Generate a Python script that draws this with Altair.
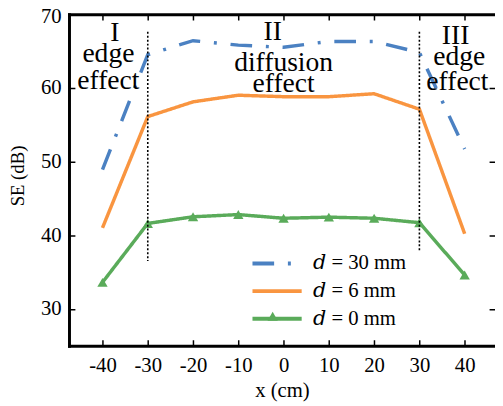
import altair as alt
import pandas as pd

# ---- data ----
x_cm = [-40, -30, -20, -10, 0, 10, 20, 30, 40]
se_d30 = [48.9, 64.5, 66.4, 65.8, 65.5, 66.3, 66.3, 64.8, 51.7]
se_d6 = [41.0, 56.1, 58.1, 59.0, 58.8, 58.8, 59.2, 57.1, 40.2]
se_d0 = [33.6, 41.6, 42.5, 42.8, 42.3, 42.45, 42.3, 41.7, 34.6]
series_labels = ["𝑑 = 30 mm", "𝑑 = 6 mm", "𝑑 = 0 mm"]
series_colors = ["#4b81c2", "#f99540", "#5aab5a"]
series_dash = [[22, 14, 3, 14], [1, 0], [1, 0]]

x_ticks = [-40, -30, -20, -10, 0, 10, 20, 30, 40]
y_ticks = [30, 40, 50, 60, 70]
x_domain = [-47.4, 46.7]
y_domain = [25, 70]

region_x = [-30, 30]
region_top = [67.6, 67.6]
region_bottom = [36.5, 37.9]

ann_text = ["I", "edge", "effect", "II", "diffusion", "effect", "III", "edge", "effect"]
ann_x = [-37.3, -38.7, -38.7, -2.4, 0.0, 0.0, 38.0, 38.8, 38.4]
ann_y = [66.4, 63.5, 59.8, 66.5, 62.35, 59.45, 65.9, 63.1, 59.7]

W, H = 433, 337
FONT = "Liberation Serif"

rows = []
for lab, vals in zip(series_labels, [se_d30, se_d6, se_d0]):
    for xv, yv in zip(x_cm, vals):
        rows.append({"x": xv, "se": yv, "series": lab})
df = pd.DataFrame(rows)
df_tri = pd.DataFrame({"x": x_cm, "se": se_d0, "marker": ["tri"] * len(x_cm)})
df_rule = pd.DataFrame({"x": region_x, "y1": region_top, "y2": region_bottom})
df_ann = pd.DataFrame({"x": ann_x, "y": ann_y, "t": ann_text})

xs = alt.Scale(domain=x_domain, nice=False, zero=False)
ys = alt.Scale(domain=y_domain, nice=False, zero=False)

x_axis = alt.Axis(
    orient="bottom", values=x_ticks, labelExpr="'' + datum.value",
    labelFont=FONT, labelFontSize=21, labelColor="black", labelPadding=9,
    domain=True, domainColor="black", domainWidth=3, domainCap="square",
    ticks=False, tickSize=0,
    grid=True, gridColor="black", gridWidth=1.5, gridOpacity=1,
    gridDash=[6, H - 12, 6, 20],
    title="x (cm)", titleFont=FONT, titleFontSize=21, titleFontWeight="normal",
    titleColor="black", titlePadding=5,
)
y_axis = alt.Axis(
    orient="left", values=y_ticks, labelExpr="'' + datum.value",
    labelFont=FONT, labelFontSize=21, labelColor="black", labelPadding=8,
    labelOffset={"condition": {"test": "datum.value == 70", "value": 2.5}, "value": 0},
    domain=True, domainColor="black", domainWidth=3, domainCap="square",
    ticks=False, tickSize=0,
    grid=True, gridColor="black", gridWidth=1.5, gridOpacity=1,
    gridDash=[6, W - 12, 6, 20],
    title="SE (dB)", titleFont=FONT, titleFontSize=19, titleFontWeight="normal",
    titleColor="black", titleX=-52, titleY=164, titleAngle=270,
    titleAlign="center", titleBaseline="middle",
)
top_axis = alt.Axis(
    orient="top", labels=False, ticks=False, grid=False, title=None,
    domain=True, domainColor="black", domainWidth=3, domainCap="square",
)

lines = alt.Chart(df).mark_line(strokeWidth=3.5).encode(
    x=alt.X("x:Q", scale=xs, axis=x_axis),
    y=alt.Y("se:Q", scale=ys, axis=y_axis),
    color=alt.Color(
        "series:N",
        scale=alt.Scale(domain=series_labels, range=series_colors),
        sort=series_labels,
        legend=alt.Legend(
            orient="none", legendX=201, legendY=243, title=None,
            symbolType="M-5,0H5", symbolSize=100, symbolStrokeWidth=4,
            labelFont="Liberation Serif, DejaVu Serif", labelFontSize=21,
            labelColor="black", labelOffset=26, rowPadding=6, padding=0,
        ),
    ),
    strokeDash=alt.StrokeDash(
        "series:N",
        scale=alt.Scale(domain=series_labels, range=series_dash),
        sort=series_labels,
    ),
)

tris = alt.Chart(df_tri).mark_point(
    filled=True, color=series_colors[2], opacity=1, size=110
).encode(
    x=alt.X("x:Q", scale=xs, axis=None),
    y=alt.Y("se:Q", scale=ys, axis=None),
    shape=alt.Shape(
        "marker:N",
        scale=alt.Scale(domain=["tri"], range=["triangle-up"]),
        legend=alt.Legend(
            orient="none", legendX=201, legendY=301, title=None,
            labelExpr="''", labelFontSize=1, padding=0,
            symbolFillColor=series_colors[2], symbolStrokeColor=series_colors[2],
            symbolSize=110, symbolOpacity=1,
        ),
    ),
)

rules = alt.Chart(df_rule).mark_rule(
    color="black", strokeWidth=1.6, strokeDash=[2, 2]
).encode(
    x=alt.X("x:Q", scale=xs, axis=top_axis),
    y=alt.Y("y1:Q", scale=ys, axis=None),
    y2="y2:Q",
)

texts = alt.Chart(df_ann).mark_text(
    font=FONT, fontSize=28, baseline="alphabetic", align="center", color="black"
).encode(
    x=alt.X("x:Q", scale=xs, axis=None),
    y=alt.Y("y:Q", scale=ys, axis=None),
    text="t:N",
)

chart = (
    alt.layer(lines, tris, rules, texts)
    .resolve_axis(x="independent", y="independent")
    .properties(
        width=W, height=H,
        autosize=alt.AutoSizeParams(type="none"),
        padding={"left": 62, "top": 3, "right": 0, "bottom": 58},
        background="white",
    )
    .configure_view(stroke=None)
)

chart.save("out.html", embed_options={"renderer": "svg", "actions": False})
